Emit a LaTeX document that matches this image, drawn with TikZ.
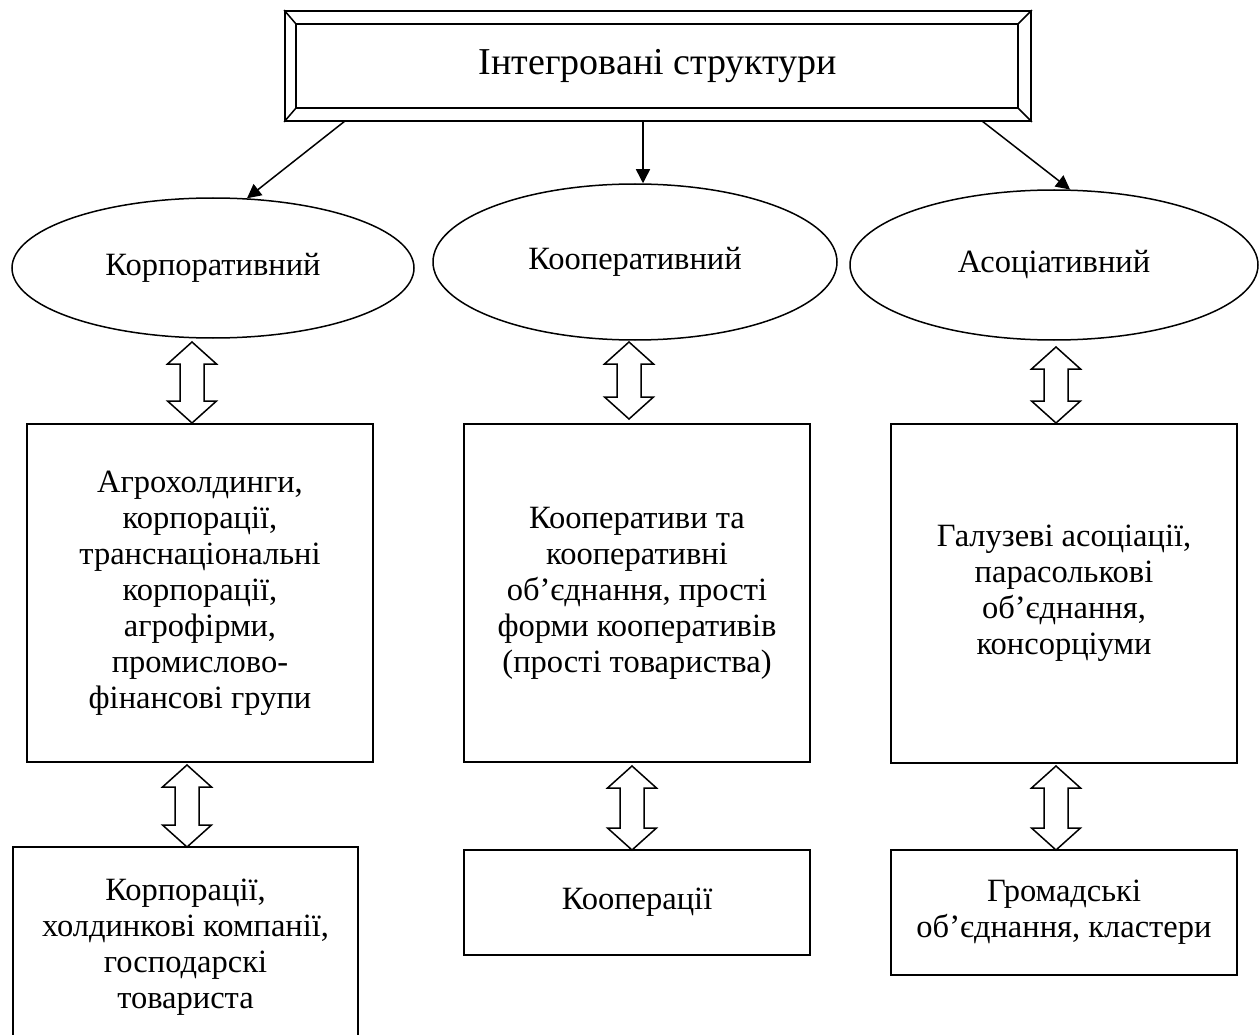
\documentclass[tikz,border=0pt]{standalone}
\usepackage{fontspec}
\setmainfont{Liberation Serif}
\usetikzlibrary{arrows.meta,shapes.geometric,calc}
% double-headed block arrow: x, y of top tip, y of bottom tip
\newcommand{\updown}[3]{%
  \draw[dbl] ({#1},{#2}) -- ({#1+24.5},{#2+22}) -- ({#1+12},{#2+22}) -- ({#1+12},{#3-22})
    -- ({#1+24.5},{#3-22}) -- ({#1},{#3}) -- ({#1-24.5},{#3-22}) -- ({#1-12},{#3-22})
    -- ({#1-12},{#2+22}) -- ({#1-24.5},{#2+22}) -- cycle;}
\begin{document}
\begin{tikzpicture}[x=1pt,y=-1pt,
  txt/.style={font=\fontsize{32.5}{36}\selectfont},
  box/.style={draw, line width=1.6pt, rectangle, minimum width=346pt, align=center, inner sep=0pt, txt},
  oval/.style={draw, ellipse, line width=1.5pt, inner sep=0pt, txt},
  arr/.style={line width=1.5pt, -{Triangle[length=14pt,width=14pt]}},
  dbl/.style={line width=1.5pt, fill=white, line join=miter}]
\path[clip] (0,0) rectangle (1259,1035);
\fill[white] (0,0) rectangle (1259,1035);
\useasboundingbox (0,0) rectangle (1259,1035);

% title with bevel frame
\node[draw, line width=1.8pt, minimum width=746pt, minimum height=110pt, inner sep=0pt,
      font=\fontsize{38}{44}\selectfont] (T) at (658,66) {Інтегровані структури};
\coordinate (Ti1) at ($(T.north west)+(12,14)$);
\coordinate (Ti2) at ($(T.north east)+(-14,14)$);
\coordinate (Ti3) at ($(T.south east)+(-14,-14)$);
\coordinate (Ti4) at ($(T.south west)+(12,-14)$);
\draw[line width=1.8pt] (Ti1) -- (Ti2) -- (Ti3) -- (Ti4) -- cycle;
\draw[line width=1.5pt] (T.north west) -- (Ti1) (T.north east) -- (Ti2)
  (T.south east) -- (Ti3) (T.south west) -- (Ti4);

% ellipses
\node[oval, minimum width=402pt, minimum height=140pt] (E1) at (213,268) {Корпоративний};
\node[oval, minimum width=404pt, minimum height=156pt] (E2) at (635,262) {Кооперативний};
\node[oval, minimum width=408pt, minimum height=150pt] (E3) at (1054,265) {Асоціативний};

% connectors from title
\coordinate (s1) at (345,121);
\coordinate (s2) at (643,121);
\coordinate (s3) at (982,121);
\draw[arr] (s1) -- (E1.64);
\draw[arr] (s2) -- (s2 |- E2.north);
\draw[arr] (s3) -- (E3.78);

% middle boxes
\node[box, minimum height=338pt] (R1) at (200,593)
  {Агрохолдинги,\\корпорації,\\транснаціональні\\корпорації,\\агрофірми,\\промислово-\\фінансові групи};
\node[box, minimum height=338pt] (R2) at (637,593)
  {Кооперативи та\\кооперативні\\об’єднання, прості\\форми кооперативів\\(прості товариства)};
\node[box, minimum height=339pt] (R3) at (1064,593.5)
  {Галузеві асоціації,\\парасолькові\\об’єднання,\\консорціуми};

% bottom boxes
\node[box, minimum width=345pt, minimum height=200pt] (B1) at (185.5,947)
  {Корпорації,\\холдинкові компанії,\\господарскі\\товариста};
\node[box, minimum height=105pt] (B2) at (637,902.5) {Кооперації};
\node[box, minimum height=125pt] (B3) at (1064,912.5) {Громадські\\об’єднання, кластери};

% double block arrows
\updown{192}{342}{423}
\updown{629}{342}{419}
\updown{1056}{347}{423}
\updown{187}{765}{847}
\updown{632}{766}{850}
\updown{1056}{766}{850}
\end{tikzpicture}
\end{document}
